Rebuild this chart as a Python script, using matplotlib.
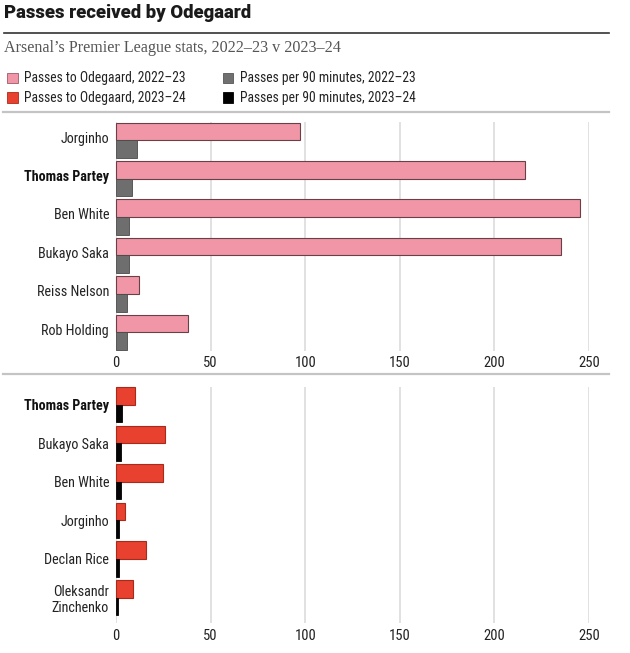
import matplotlib
matplotlib.use("Agg")
import matplotlib.pyplot as plt
import numpy as np
from matplotlib import font_manager as fm
from matplotlib.patches import Rectangle
from matplotlib.lines import Line2D

# ---------------- data ----------------
players_2223 = ["Jorginho", "Thomas Partey", "Ben White", "Bukayo Saka", "Reiss Nelson", "Rob Holding"]
passes_2223 = [97, 216, 245, 235, 12, 38]
per90_2223 = [10.9, 8.2, 7.1, 7.1, 6.0, 6.0]

players_2324 = ["Thomas Partey", "Bukayo Saka", "Ben White", "Jorginho", "Declan Rice", "Oleksandr\nZinchenko"]
passes_2324 = [10, 26, 25, 5, 16, 9]
per90_2324 = [3.4, 2.8, 2.5, 1.6, 1.4, 1.2]

xticks = [0, 50, 100, 150, 200, 250]
highlight = "Thomas Partey"
legend_labels = ["Passes to Odegaard, 2022–23", "Passes per 90 minutes, 2022–23",
                 "Passes to Odegaard, 2023–24", "Passes per 90 minutes, 2023–24"]
title = "Passes received by Odegaard"
subtitle = "Arsenal’s Premier League stats, 2022–23 v 2023–24"

# ---------------- fonts ----------------
def find_font(bold=False):
    cands = []
    for f in fm.fontManager.ttflist:
        fn = f.fname.lower()
        nm = f.name.lower()
        is_cond = ("narrow" in nm or "condensed" in nm or "narrow" in fn or "condensed" in fn
                   or f.stretch in ("condensed", "semi-condensed", "extra-condensed"))
        if not is_cond or "serif" in nm and "sans" not in nm or "mono" in nm:
            continue
        w = f.weight if isinstance(f.weight, int) else (700 if "bold" in str(f.weight) else 400)
        if f.style != "normal":
            continue
        if bold and w < 600:
            continue
        if not bold and w >= 600:
            continue
        if not bold and w < 400:
            continue
        pref = 0
        if "liberation sans narrow" in nm:
            pref = 3
        elif "roboto" in nm:
            pref = 2
        elif "dejavu" in nm:
            pref = 1
        cands.append((pref, -abs(w - (700 if bold else 400)), f.fname))
    if cands:
        cands.sort(reverse=True)
        return fm.FontProperties(fname=cands[0][2])
    return fm.FontProperties(family=["Liberation Sans", "DejaVu Sans"],
                             weight="bold" if bold else "normal")

COND = find_font(False)
COND_B = find_font(True)

W, H = 630, 653
fig = plt.figure(figsize=(W / 100, H / 100), dpi=100)
fig.patch.set_facecolor("white")

def fx(px):
    return px / W

def fy(py):
    return 1 - py / H

def fp(base, size):
    p = base.copy()
    p.set_size(size)
    return p

# ---------------- header ----------------
fig.text(fx(4), fy(12.5), title, fontsize=13.3, fontweight="heavy",
         family=["Roboto", "Liberation Sans", "DejaVu Sans"], color="#1a1a1a", va="center", ha="left")
fig.add_artist(Line2D([fx(4), fx(609)], [fy(33.3), fy(33.3)], color="#333333", lw=1.2))
fig.text(fx(4), fy(48), subtitle, fontsize=11.6, family=["Liberation Serif", "DejaVu Serif"],
         color="#555555", va="center", ha="left")

leg_colors = ["#f096a6", "#707070", "#e8412f", "#000000"]
leg_edges = ["#a05868", "#555555", "#b02818", "#000000"]
leg_pos = [(7, 72.7), (222.7, 72.7), (7, 92.2), (222.7, 92.2)]
for lab, c, e, (x, y) in zip(legend_labels, leg_colors, leg_edges, leg_pos):
    fig.add_artist(Rectangle((fx(x), fy(y + 10.5)), 10.5 / W, 10.5 / H, facecolor=c,
                             edgecolor=e, lw=0.6, transform=fig.transFigure))
    fig.text(fx(x + 17), fy(y + 5.5), lab, fontproperties=fp(COND, 9.8), color="#222222",
             va="center", ha="left")

for yy in (111.7, 373.5):
    fig.add_artist(Line2D([fx(3), fx(609)], [fy(yy), fy(yy)], color="#c4c4c4", lw=1.6))

# ---------------- panels ----------------
h = 0.457

def panel(top_px, bot_px, ylim, players, main, per90, c_main, e_main, c_sec, e_sec, yshift):
    ax = fig.add_axes([fx(116), fy(bot_px), (589 - 116) / W, (bot_px - top_px) / H])
    y = np.arange(len(players))
    ax.barh(y - h / 2, main, height=h, color=c_main, edgecolor=e_main, lw=0.8, zorder=3, clip_on=False)
    ax.barh(y + h / 2, per90, height=h, color=c_sec, edgecolor=e_sec, lw=0.6, zorder=3, clip_on=False)
    ax.set_xlim(0, 250)
    ax.set_ylim(*ylim)
    ax.set_xticks(xticks)
    ax.set_xticklabels([str(t) for t in xticks])
    ax.set_yticks(y + yshift)
    ax.set_yticklabels(players, linespacing=1.2)
    for lab, name in zip(ax.get_yticklabels(), players):
        lab.set_fontproperties(fp(COND_B if name == highlight else COND, 10.2))
        lab.set_color("#222222" if name != highlight else "#111111")
    for lab in ax.get_xticklabels():
        lab.set_fontproperties(fp(COND, 10.5))
        lab.set_color("#222222")
    ax.tick_params(axis="both", length=0)
    ax.tick_params(axis="x", pad=4.0)
    ax.tick_params(axis="y", pad=5)
    for s in ax.spines.values():
        s.set_visible(False)
    ax.grid(axis="x", color="#dcdcdc", lw=1.2, zorder=0)
    ax.set_axisbelow(True)
    ax.set_facecolor("none")
    return ax

panel(122.0, 350.5, (5.47, -0.47), players_2223, passes_2223, per90_2223,
      "#f096a6", "#6a4048", "#6e6e6e", "#4a4a4a", -0.08)
panel(387.0, 623.0, (5.66, -0.46), players_2324, passes_2324, per90_2324,
      "#e8412f", "#a82a1a", "#050505", "#000000", 0.0)

fig.savefig("out.png", dpi=100, facecolor="white")
